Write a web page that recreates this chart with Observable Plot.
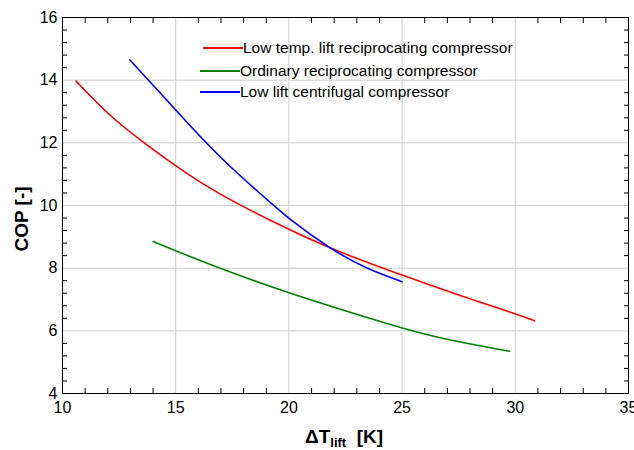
<!DOCTYPE html>
<html>
<head>
<meta charset="utf-8">
<script src="https://cdn.jsdelivr.net/npm/d3@7"></script>
<script src="https://cdn.jsdelivr.net/npm/@observablehq/plot@0.6"></script>
<style>
  html, body { margin: 0; padding: 0; background: #fff; }
  #wrap { position: relative; width: 634px; height: 450px; font-family: Arial, "Liberation Sans", sans-serif; }
  .leg { position: absolute; font-size: 15.5px; color: #000; white-space: nowrap; line-height: 18px; font-family: "Liberation Sans", Arial, sans-serif; }
  .leg span.sw { display: inline-block; width: 40px; height: 1.6px; vertical-align: middle; position: relative; top: -1px; }
  .ylab { position: absolute; font-weight: bold; font-size: 19px; transform: rotate(-90deg); transform-origin: center; white-space: nowrap; font-family: "Liberation Sans", Arial, sans-serif; }
  .xlab { position: absolute; font-weight: bold; font-size: 19px; white-space: nowrap; font-family: "Liberation Sans", Arial, sans-serif; }
  .xlab sub { font-size: 13px; vertical-align: -4px; }
</style>
</head>
<body>
<div id="wrap"></div>
<script>
// Series data (ΔT_lift [K], COP)
const seriesNames = ["Low temp. lift reciprocating compressor", "Ordinary reciprocating compressor", "Low lift centrifugal compressor"];
const seriesColors = ["#ff0000", "#008000", "#0000ff"];
const redX = [10.6, 11.97, 13.45, 14.93, 16.24, 17.72, 19.92, 21.9, 25.0, 27.5, 30.0, 30.85];
const redY = [13.97, 12.93, 12.07, 11.3, 10.66, 10.05, 9.26, 8.6, 7.77, 7.14, 6.55, 6.32];
const greenX = [14.0, 14.99, 16.98, 19.99, 22.7, 25.0, 27.1, 29.75];
const greenY = [8.85, 8.56, 7.98, 7.2, 6.59, 6.08, 5.69, 5.35];
const blueX = [12.97, 14.95, 16.24, 17.42, 18.75, 20.07, 21.88, 23.42, 25.0];
const blueY = [14.65, 13.09, 12.07, 11.22, 10.37, 9.52, 8.59, 7.98, 7.57];
const xMajor = [10, 15, 20, 25, 30, 35];
const yMajor = [4, 6, 8, 10, 12, 14, 16];
const xMinor = d3.range(11, 35, 1).filter(v => v % 5 !== 0);
const yMinor = d3.range(0, 31).map(i => +(4 + i * 0.4).toFixed(1)).filter(v => v > 4 && v < 16 && Math.abs(v % 2) > 1e-6);

const toRows = (xs, ys, s) => xs.map((x, i) => ({x, y: ys[i], s}));
const rows = [
  ...toRows(redX, redY, seriesNames[0]),
  ...toRows(greenX, greenY, seriesNames[1]),
  ...toRows(blueX, blueY, seriesNames[2])
];

const minorAxis = (Ax, ticks, anchor) => Ax(ticks, {anchor, tickSize: -5, tickFormat: () => "", label: null, stroke: "#000"});

const chart = Plot.plot({
  width: 634,
  height: 450,
  marginLeft: 62,
  marginRight: 6,
  marginTop: 17,
  marginBottom: 57,
  style: {fontFamily: "'Liberation Sans', Arial, sans-serif", fontSize: "16px", background: "#fff", color: "#000"},
  x: {domain: [10, 35]},
  y: {domain: [4, 16]},
  color: {domain: seriesNames, range: seriesColors},
  marks: [
    Plot.gridX(xMajor, {stroke: "#cccccc", strokeOpacity: 1, strokeWidth: 1}),
    Plot.gridY(yMajor, {stroke: "#cccccc", strokeOpacity: 1, strokeWidth: 1}),
    Plot.line(rows, {x: "x", y: "y", z: "s", stroke: "s", strokeWidth: 1.6, curve: "basis"}),
    Plot.frame({stroke: "#000", strokeWidth: 1}),
    Plot.axisX(xMajor, {anchor: "bottom", tickSize: 0, tickPadding: 8, label: null, fontSize: 16}),
    Plot.axisY(yMajor, {anchor: "left", tickSize: 0, tickPadding: 5, label: null, fontSize: 16}),
    minorAxis(Plot.axisX, xMinor, "bottom"),
    minorAxis(Plot.axisX, xMinor, "top"),
    minorAxis(Plot.axisY, yMinor, "left"),
    minorAxis(Plot.axisY, yMinor, "right")
  ]
});

const wrap = document.getElementById("wrap");
wrap.appendChild(chart);

// Legend (HTML overlay inside plot area)
const legPos = [[203, 39], [200, 62], [200, 83]];
seriesNames.forEach((name, i) => {
  const d = document.createElement("div");
  d.className = "leg";
  d.style.left = legPos[i][0] + "px";
  d.style.top = legPos[i][1] + "px";
  d.innerHTML = `<span class="sw" style="background:${seriesColors[i]}"></span>${name}`;
  wrap.appendChild(d);
});

// Axis labels
const yl = document.createElement("div");
yl.className = "ylab";
yl.textContent = "COP [-]";
wrap.appendChild(yl);
yl.style.left = (21 - yl.offsetWidth / 2) + "px";
yl.style.top = (219 - yl.offsetHeight / 2) + "px";

const xl = document.createElement("div");
xl.className = "xlab";
xl.innerHTML = "ΔT<sub>lift</sub>&nbsp;&nbsp;[K]";
wrap.appendChild(xl);
xl.style.left = (344 - xl.offsetWidth / 2) + "px";
xl.style.top = (426) + "px";
</script>
</body>
</html>
